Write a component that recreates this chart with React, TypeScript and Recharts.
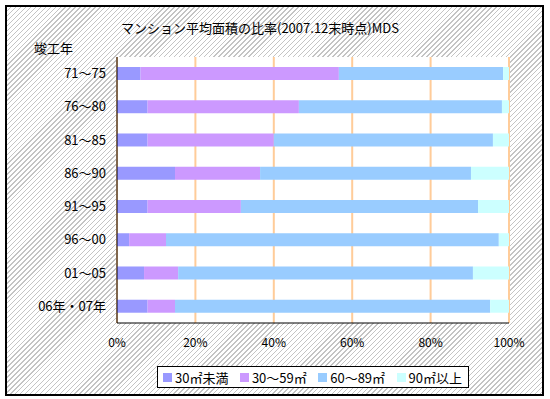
import { Bar, BarChart, CartesianGrid, XAxis, YAxis } from "recharts";

const categories = ["71～75", "76～80", "81～85", "86～90", "91～95", "96～00", "01～05", "06年・07年"];
const under30 = [6.0, 7.8, 7.8, 14.8, 7.8, 3.1, 6.9, 7.8];
const from30to59 = [50.6, 38.6, 32.2, 21.7, 23.8, 9.4, 8.7, 7.0];
const from60to89 = [41.9, 51.8, 55.9, 53.8, 60.5, 84.9, 75.2, 80.4];
const over90 = [1.5, 1.8, 4.1, 9.7, 7.9, 2.6, 9.2, 4.8];
const xTicks = [0, 0.2, 0.4, 0.6, 0.8, 1];

const seriesNames = ["30㎡未満", "30～59㎡", "60～89㎡", "90㎡以上"];
const seriesColors = ["#9999FF", "#CC99FF", "#99CCFF", "#CCFFFF"];

const data = categories.map((name, i) => ({
  name,
  a: under30[i],
  b: from30to59[i],
  c: from60to89[i],
  d: over90[i],
}));

const FONT = "'Noto Sans CJK JP', sans-serif";

// legend drawn as plain html so it doesn't eat plot height
function LegendBox() {
  return (
    <div
      style={{
        position: "absolute",
        left: 157,
        top: 366,
        width: 312,
        height: 22,
        display: "flex",
        alignItems: "center",
        justifyContent: "space-between",
        border: "1px solid #000",
        background: "#fff",
        padding: "0 6px 0 5px",
        boxSizing: "border-box",
        fontFamily: FONT,
        fontSize: 13,
        color: "#000",
      }}
    >
      {seriesNames.map((n, i) => (
        <span key={n} style={{ display: "inline-flex", alignItems: "center", gap: 3 }}>
          <span style={{ width: 9, height: 9, background: seriesColors[i], display: "inline-block" }} />
          {n}
        </span>
      ))}
    </div>
  );
}

export default function App() {
  return (
    <div style={{ position: "absolute", left: 0, top: 0, width: 550, height: 399, background: "#fff" }}>
      <div
        style={{
          position: "absolute",
          left: 5,
          top: 5,
          width: 535,
          height: 387,
          border: "2px solid #000",
          background:
            "repeating-linear-gradient(135deg, #fff 0px, #fff 2.5px, #c4c4c4 2.5px, #c4c4c4 3.5px)",
        }}
      />
      <div
        style={{
          position: "absolute",
          left: 0,
          width: 520,
          top: 18,
          textAlign: "center",
          fontFamily: FONT,
          fontSize: 13,
          color: "#000",
        }}
      >
        マンション平均面積の比率(2007.12末時点)MDS
      </div>
      <div style={{ position: "absolute", left: 34, top: 38, fontFamily: FONT, fontSize: 13, color: "#000" }}>
        竣工年
      </div>
      <div style={{ position: "absolute", left: 0, top: 0 }}>
        <BarChart
          width={550}
          height={399}
          data={data}
          layout="vertical"
          stackOffset="expand"
          barCategoryGap="30%"
          margin={{ top: 57, right: 41, bottom: 0, left: 0 }}
        >
          <CartesianGrid horizontal={false} stroke="#FFCC99" strokeWidth={2} fill="#fff" />
          <XAxis
            type="number"
            domain={[0, 1]}
            ticks={xTicks}
            tickFormatter={(v: number) => `${Math.round(v * 100)}%`}
            tick={{ fontSize: 12, fill: "#000", fontFamily: FONT }}
            tickLine={false}
            tickMargin={9}
            stroke="#000"
            interval={0}
            height={76}
          />
          <XAxis
            xAxisId="top"
            orientation="top"
            type="number"
            domain={[0, 1]}
            tick={false}
            tickLine={false}
            height={0}
            stroke="#FFCC99"
            strokeWidth={2}
          />
          <YAxis
            type="category"
            dataKey="name"
            width={117}
            tick={{ fontSize: 13, fill: "#000", fontFamily: FONT }}
            tickLine={false}
            tickMargin={5}
            stroke="#000"
            interval={0}
          />
          <Bar dataKey="a" stackId="s" fill={seriesColors[0]} isAnimationActive={false} />
          <Bar dataKey="b" stackId="s" fill={seriesColors[1]} isAnimationActive={false} />
          <Bar dataKey="c" stackId="s" fill={seriesColors[2]} isAnimationActive={false} />
          <Bar dataKey="d" stackId="s" fill={seriesColors[3]} isAnimationActive={false} />
        </BarChart>
      </div>
      <LegendBox />
    </div>
  );
}
